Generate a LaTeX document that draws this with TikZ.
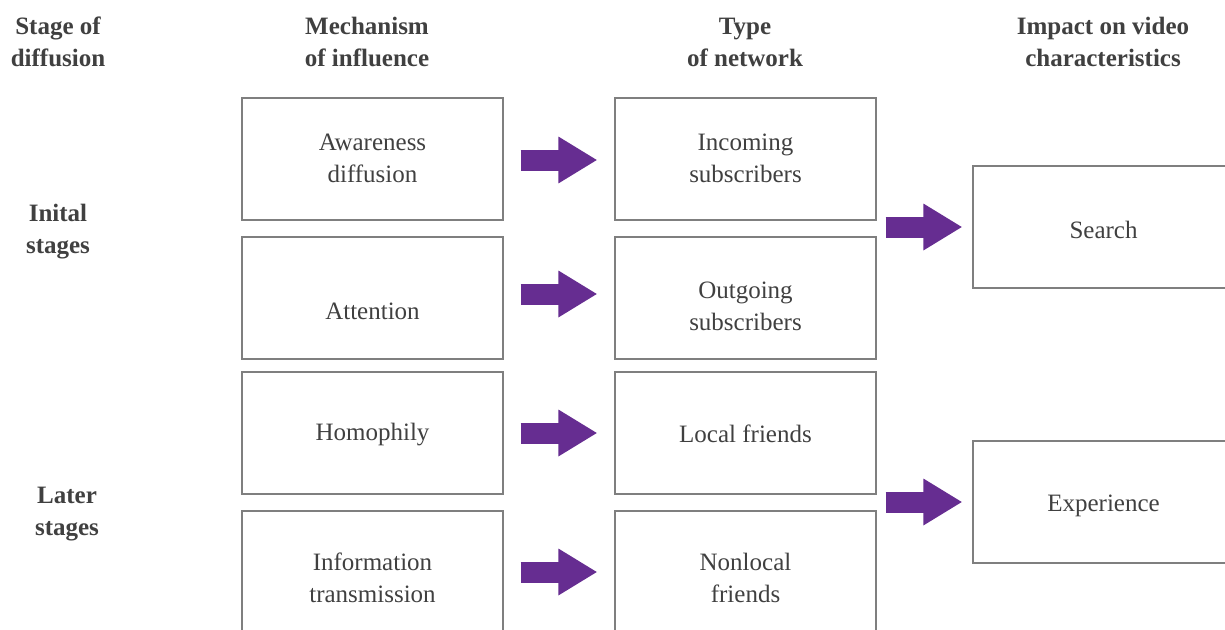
\documentclass[tikz,border=0pt]{standalone}
\usepackage{fontspec}
\setmainfont{Liberation Serif}
\usetikzlibrary{arrows.meta}
\definecolor{txt}{HTML}{404040}
\definecolor{bord}{HTML}{7F7F7F}
\definecolor{purp}{HTML}{662D91}
\begin{document}
\begin{tikzpicture}[x=1pt,y=-1pt,
  box/.style={draw=bord,line width=1.3pt,minimum width=261pt,minimum height=122pt,inner sep=0pt},
  lbl/.style={align=center,text=txt,inner sep=0pt,font=\fontsize{25}{32}\selectfont},
  head/.style={align=center,text=txt,inner sep=0pt,font=\fontsize{25}{32}\selectfont\bfseries},
  fat/.style={draw=purp,line width=21pt,line cap=butt,-{Triangle[length=39pt,width=44pt]}}]
\useasboundingbox (0,0) rectangle (1225,629);
\clip (0,0) rectangle (1225,629);
% headers
\node[head] (h1) at (58,42) {Stage of\\diffusion};
\node[head] (h2) at (367,42) {Mechanism\\of influence};
\node[head] (h3) at (745,42) {Type\\of network};
\node[head] (h4) at (1103,42) {Impact on video\\characteristics};
\node[head] (s1) at (58,232) {Inital\\stages};
\node[head] (s2) at (67,514) {Later\\stages};
% column 1 boxes
\node[box] (m1) at (372.5,159) {};
\node[box] (m2) at (372.5,298) {};
\node[box] (m3) at (372.5,433) {};
\node[box] (m4) at (372.5,572) {};
% column 2 boxes
\node[box] (n1) at (745.5,159) {};
\node[box] (n2) at (745.5,298) {};
\node[box] (n3) at (745.5,433) {};
\node[box] (n4) at (745.5,572) {};
% column 3 boxes
\node[box] (c1) at (1103.5,227) {};
\node[box] (c2) at (1103.5,502) {};
% texts
\node[lbl] (m1t) at (372.5,158) {Awareness\\diffusion};
\node[lbl] (m2t) at (372.5,311) {Attention};
\node[lbl] (m3t) at (372.5,435) {Homophily};
\node[lbl] (m4t) at (372.5,578) {Information\\transmission};
\node[lbl] (n1t) at (745.5,158) {Incoming\\subscribers};
\node[lbl] (n2t) at (745.5,306) {Outgoing\\subscribers};
\node[lbl] (n3t) at (745.5,434) {Local friends};
\node[lbl] (n4t) at (745.5,578) {Nonlocal\\friends};
\node[lbl] (c1t) at (1103.5,230) {Search};
\node[lbl] (c2t) at (1103.5,506) {Experience};
% arrows
\draw[fat] ([xshift=17pt,yshift=-1pt]m1.east) -- ([xshift=-17pt,yshift=-1pt]n1.west);
\draw[fat] ([xshift=17pt,yshift=4pt]m2.east) -- ([xshift=-17pt,yshift=4pt]n2.west);
\draw[fat] ([xshift=17pt]m3.east) -- ([xshift=-17pt]n3.west);
\draw[fat] ([xshift=17pt]m4.east) -- ([xshift=-17pt]n4.west);
\draw[fat] ([xshift=9pt]n1.east |- c1.west) -- ([xshift=-10pt]c1.west);
\draw[fat] ([xshift=9pt]n3.east |- c2.west) -- ([xshift=-10pt]c2.west);
\end{tikzpicture}
\end{document}
